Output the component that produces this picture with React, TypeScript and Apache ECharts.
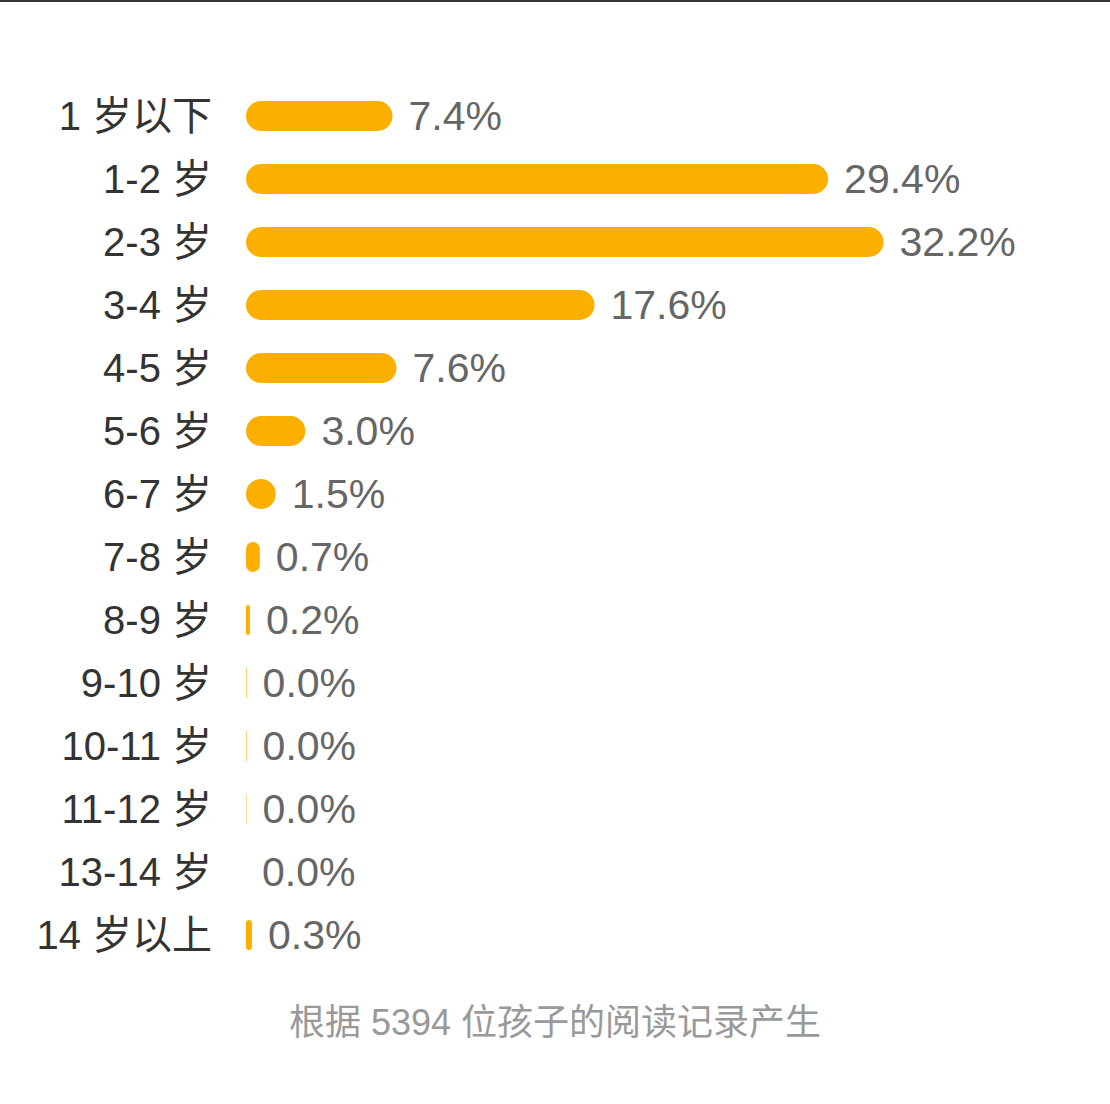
import React, {FunctionComponent, useRef, useEffect} from 'react';
import * as echarts from 'echarts';

const categories = [
    '1 岁以下',
    '1-2 岁',
    '2-3 岁',
    '3-4 岁',
    '4-5 岁',
    '5-6 岁',
    '6-7 岁',
    '7-8 岁',
    '8-9 岁',
    '9-10 岁',
    '10-11 岁',
    '11-12 岁',
    '13-14 岁',
    '14 岁以上'
];
// percent of children per age group
const shares = [7.4, 29.4, 32.2, 17.6, 7.6, 3.0, 1.5, 0.7, 0.2, 0.03, 0.03, 0.02, 0, 0.3];
const footnote = '根据 5394 位孩子的阅读记录产生';

const FONT = '"Liberation Sans", "Noto Sans CJK SC", sans-serif';

const App: FunctionComponent = () => {
    const ref = useRef<HTMLDivElement>(null);

    useEffect(() => {
        const chart = echarts.init(ref.current as HTMLDivElement, null, {renderer: 'svg'});
        chart.setOption({
            animation: false,
            backgroundColor: '#fff',
            grid: {left: 246, right: 72, top: 84.5, bottom: 137.5, containLabel: false},
            xAxis: {
                type: 'value',
                min: 0,
                max: 40,
                show: false
            },
            yAxis: {
                type: 'category',
                inverse: true,
                data: categories,
                axisLine: {show: false},
                axisTick: {show: false},
                splitLine: {show: false},
                axisLabel: {
                    margin: 34,
                    fontSize: 40,
                    color: '#333',
                    fontFamily: FONT
                }
            },
            series: [
                {
                    type: 'bar',
                    data: shares,
                    barWidth: 30,
                    itemStyle: {color: '#fdaf00', borderRadius: 15},
                    label: {
                        show: true,
                        position: 'right',
                        distance: 16,
                        fontSize: 41,
                        color: '#666',
                        fontFamily: FONT,
                        formatter: (p: any) => `${Number(p.value).toFixed(1)}%`
                    }
                }
            ],
            graphic: [
                {
                    type: 'rect',
                    left: 0,
                    top: 0,
                    shape: {width: 1110, height: 2},
                    style: {fill: '#333'}
                },
                {
                    type: 'text',
                    left: 'center',
                    top: 1004,
                    style: {
                        text: footnote,
                        fontSize: 36,
                        fill: '#999',
                        fontFamily: FONT
                    }
                }
            ]
        });
        return () => chart.dispose();
    }, []);

    return <div ref={ref} style={{position: 'fixed', left: 0, top: 0, width: 1110, height: 1104}}></div>;
};

export default App;
